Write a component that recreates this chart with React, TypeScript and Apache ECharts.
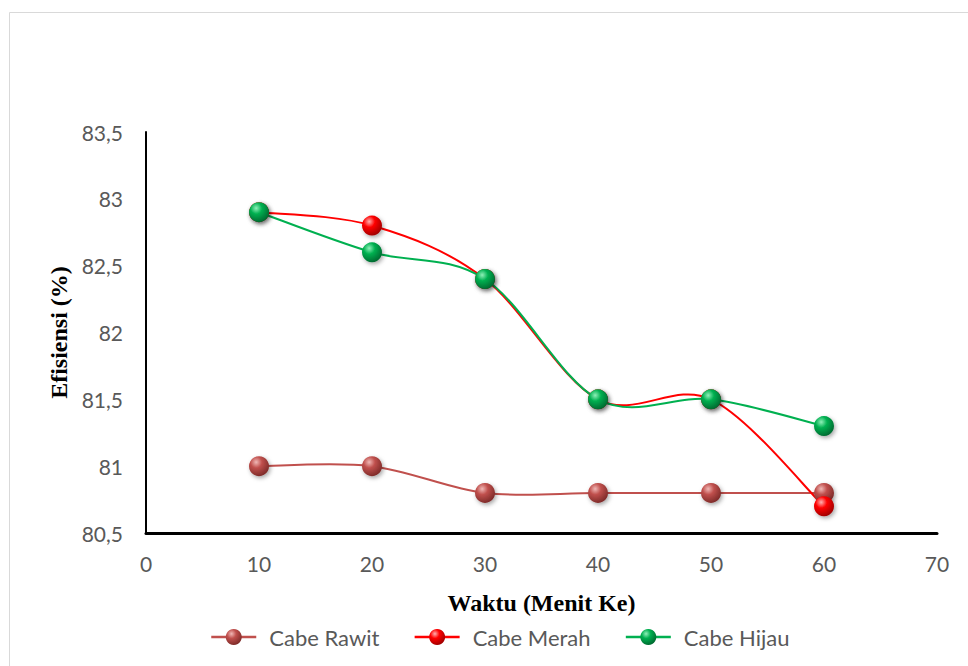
import React, { useEffect, useRef } from "react";
import * as echarts from "echarts";

const xValues = [10, 20, 30, 40, 50, 60];
const seriesNames = ["Cabe Rawit", "Cabe Merah", "Cabe Hijau"];
const cabeRawit = [81, 81, 80.8, 80.8, 80.8, 80.8];
const cabeMerah = [82.9, 82.8, 82.4, 81.5, 81.5, 80.7];
const cabeHijau = [82.9, 82.6, 82.4, 81.5, 81.5, 81.3];

const lineColors = ["#C0504D", "#FF0000", "#00B050"];
const lightColors = ["#F0B8B6", "#FFB0B0", "#8FF0B8"];
const darkColors = ["#7E2B29", "#A00000", "#006A30"];

const FONT = "Lato";
const SERIF = "Liberation Serif";

function sphere(i: number) {
  return new echarts.graphic.RadialGradient(0.36, 0.3, 0.72, [
    { offset: 0, color: lightColors[i] },
    { offset: 0.4, color: lineColors[i] },
    { offset: 1, color: darkColors[i] },
  ]);
}

export default function App() {
  const ref = useRef<HTMLDivElement>(null);
  useEffect(() => {
    document.body.style.margin = "0";
    const chart = echarts.init(ref.current!, null, { renderer: "svg" });
    const all = [cabeRawit, cabeMerah, cabeHijau];

    const curveSeries = seriesNames.map((name, i) => ({
      name: name + " curve",
      type: "custom",
      data: xValues.map((x, j) => [x, all[i][j]]),
      silent: true,
      z: 2,
      renderItem: (params: any, api: any) => {
        const k = params.dataIndex;
        const n = xValues.length;
        if (k >= n - 1) return null;
        const pt = (j: number) => {
          const c = Math.max(0, Math.min(n - 1, j));
          return api.coord([xValues[c], all[i][c]]);
        };
        const p0 = pt(k - 1);
        const p1 = pt(k);
        const p2 = pt(k + 1);
        const p3 = pt(k + 2);
        return {
          type: "bezierCurve",
          shape: {
            x1: p1[0],
            y1: p1[1],
            x2: p2[0],
            y2: p2[1],
            cpx1: p1[0] + (p2[0] - p0[0]) / 6,
            cpy1: p1[1] + (p2[1] - p0[1]) / 6,
            cpx2: p2[0] - (p3[0] - p1[0]) / 6,
            cpy2: p2[1] - (p3[1] - p1[1]) / 6,
          },
          style: { stroke: lineColors[i], lineWidth: 2, fill: "none" },
          z2: i,
        };
      },
    }));

    const markerSeries = seriesNames.map((name, i) => ({
      name,
      type: "line",
      symbol: "circle",
      symbolSize: 20,
      data: xValues.map((x, j) => [x, all[i][j]]),
      lineStyle: { color: lineColors[i], width: 2, opacity: 0 },
      itemStyle: {
        color: sphere(i),
        borderWidth: 0,
        shadowBlur: 4,
        shadowOffsetX: 1.5,
        shadowOffsetY: 2,
        shadowColor: "rgba(0,0,0,0.35)",
      },
      z: 3 + i,
    }));

    chart.setOption({
      animation: false,
      backgroundColor: "#ffffff",
      graphic: [
        {
          type: "rect",
          shape: { x: 9.5, y: 12.5, width: 1000, height: 700 },
          style: { fill: "none", stroke: "#D9D9D9", lineWidth: 1 },
          silent: true,
          z: -1,
        },
      ],
      grid: { left: 146, right: 31, top: 132, bottom: 133, containLabel: false },
      legend: {
        top: 626,
        left: 210,
        padding: 0,
        itemWidth: 45,
        itemHeight: 20,
        itemGap: 34,
        textStyle: { color: "#595959", fontSize: 22, fontFamily: FONT, padding: [0, 0, 0, 8] },
        data: seriesNames.map((name, i) => ({
          name,
          lineStyle: { color: lineColors[i], width: 2.5, opacity: 1 },
        })),
      },
      xAxis: {
        type: "value",
        min: 0,
        max: 70,
        interval: 10,
        name: "Waktu (Menit Ke)",
        nameLocation: "middle",
        nameGap: 58,
        nameTextStyle: { color: "#000", fontSize: 24, fontWeight: "bold", fontFamily: SERIF },
        axisLine: { show: true, onZero: false, lineStyle: { color: "#000", width: 3 } },
        axisTick: { show: false },
        splitLine: { show: false },
        axisLabel: { color: "#595959", fontSize: 21, margin: 20, fontFamily: FONT },
      },
      yAxis: {
        type: "value",
        min: 80.5,
        max: 83.5,
        interval: 0.5,
        name: "Efisiensi (%)",
        nameLocation: "middle",
        nameGap: 72,
        nameTextStyle: { color: "#000", fontSize: 24, fontWeight: "bold", fontFamily: SERIF },
        axisLine: { show: true, lineStyle: { color: "#000", width: 2 } },
        axisTick: { show: false },
        splitLine: { show: false },
        axisLabel: {
          color: "#595959",
          fontSize: 21,
          margin: 23,
          fontFamily: FONT,
          formatter: (v: number) => String(v).replace(".", ","),
        },
      },
      series: [...curveSeries, ...markerSeries],
    });
    return () => chart.dispose();
  }, []);
  return <div ref={ref} style={{ width: 968, height: 666 }} />;
}
